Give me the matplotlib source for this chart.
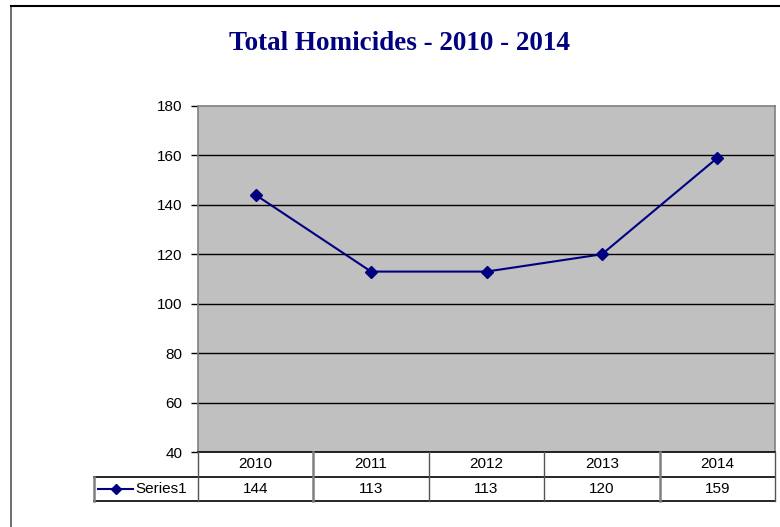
import matplotlib
matplotlib.use("Agg")
import matplotlib.pyplot as plt
from matplotlib.lines import Line2D

years = ["2010", "2011", "2012", "2013", "2014"]
homicides = [144, 113, 113, 120, 159]
series_name = "Series1"
title = "Total Homicides - 2010 - 2014"
y_ticks = [40, 60, 80, 100, 120, 140, 160, 180]

W, H = 780, 527
fig = plt.figure(figsize=(W / 100, H / 100), dpi=100)
fig.patch.set_facecolor("white")

def fx(px):
    return px / W

def fy(py):
    return 1 - py / H

navy = "#000080"
FS = 11

# outer chart border (cropped at right/bottom)
fig.add_artist(Line2D([fx(10.5), fx(10.5)], [fy(6), fy(527)], transform=fig.transFigure,
                      color="#555555", lw=1.2))
fig.add_artist(Line2D([fx(10.5), fx(780)], [fy(6), fy(6)], transform=fig.transFigure,
                      color="black", lw=1.5))

# plot area
L, R, T, B = 198, 775, 106, 452
ax = fig.add_axes([fx(L), fy(B), fx(R - L), (B - T) / H])
ax.set_facecolor("#C0C0C0")
x = list(range(len(years)))
ax.plot(x, homicides, color=navy, lw=1.5, marker="D", markersize=6.5,
        markerfacecolor=navy, markeredgecolor=navy, zorder=3)
ax.set_xlim(-0.5, len(years) - 0.5)
ax.set_ylim(40, 180)
ax.set_yticks(y_ticks)
ax.set_yticklabels([str(v) for v in y_ticks], fontfamily="Liberation Sans", fontsize=FS)
ax.tick_params(axis="y", length=5, width=1, color="black", pad=6)
ax.set_xticks([])
for v in y_ticks[1:-1]:
    ax.axhline(v, color="black", lw=1, zorder=1)
for s in ax.spines.values():
    s.set_color("#808080")
    s.set_linewidth(1.2)
ax.spines["bottom"].set_color("black")

# title
fig.text(fx(400), fy(43), title, ha="center", va="center", color=navy,
         fontfamily="Liberation Serif", fontweight="bold", fontsize=19.5)

# data table
TL = 94
unit = (R - L) / len(years)
tax = fig.add_axes([fx(TL), fy(501), fx(R - TL), (501 - B) / H])
tax.set_xlim(-0.5 - (L - TL) / unit, len(years) - 0.5)
tax.set_ylim(0, 2)
tax.axis("off")
xl = -0.5 - (L - TL) / unit
tax.plot([xl, len(years) - 0.5], [1, 1], color="black", lw=1.2, clip_on=False)
tax.plot([xl, len(years) - 0.5], [0, 0], color="black", lw=1.2, clip_on=False)
tax.plot([xl, xl], [0, 1], color="#808080", lw=1.8, clip_on=False)
for i in range(len(years) + 1):
    c = "#808080" if i in (1, 4) else "#555555"
    lw = 1.8 if i in (1, 4) else 1.0
    tax.plot([i - 0.5, i - 0.5], [0, 2], color=c, lw=lw, clip_on=False)
for i, (yr, v) in enumerate(zip(years, homicides)):
    tax.text(i, 1.5, yr, ha="center", va="center", fontfamily="Liberation Sans", fontsize=FS)
    tax.text(i, 0.5, str(v), ha="center", va="center", fontfamily="Liberation Sans", fontsize=FS)
# legend key
kx0 = xl + (98 - TL) / unit
kx1 = xl + (133 - TL) / unit
tax.plot([kx0, kx1], [0.5, 0.5], color=navy, lw=1.5, clip_on=False)
tax.plot([(kx0 + kx1) / 2], [0.5], marker="D", color=navy, markersize=5.5, clip_on=False)
tax.text(xl + (135 - TL) / unit, 0.5, series_name, ha="left", va="center",
         fontfamily="Liberation Sans", fontsize=FS)

fig.savefig("out.png", dpi=100)
